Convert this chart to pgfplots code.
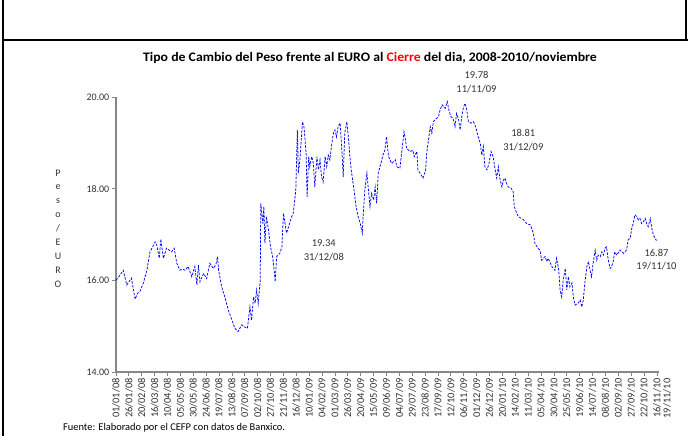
\documentclass[border=0pt]{standalone}
\usepackage{pgfplots}
\pgfplotsset{compat=1.18}
\usepackage{fontspec}
\setmainfont{Carlito}
\definecolor{axgray}{RGB}{134,134,134}
\definecolor{txtgray}{RGB}{50,50,50}
\begin{document}
\begin{tikzpicture}[x=1bp,y=1bp]
\useasboundingbox (0,0) rectangle (688,436);
% frame of the surrounding cell
\draw[line width=1.3bp] (3,436) -- (3,0);
\draw[line width=1.3bp] (3,396) -- (688,396);
\draw[line width=1.3bp] (686,436) -- (686,396);
\node[xscale=1.06, font=\fontsize{13bp}{15bp}\selectfont\bfseries] at (370,378) {Tipo de Cambio del Peso frente al EURO al \textcolor{red}{Cierre} del dia, 2008-2010/noviembre};
\begin{axis}[
  at={(116bp,64bp)}, anchor=south west,
  scale only axis, width=542.5bp, height=275bp,
  xmin=0, xmax=1053, ymin=14, ymax=20,
  axis x line=bottom, axis y line=left,
  axis line style={-, draw=axgray, line width=1.3bp},
  tick align=outside, major tick length=4.5bp,
  tick style={draw=axgray, line width=0.8bp},
  xtick={0,25,...,1050},
  xticklabels={01/01/08,26/01/08,20/02/08,16/03/08,10/04/08,05/05/08,30/05/08,24/06/08,19/07/08,13/08/08,07/09/08,02/10/08,27/10/08,21/11/08,16/12/08,10/01/09,04/02/09,01/03/09,26/03/09,20/04/09,15/05/09,09/06/09,04/07/09,29/07/09,23/08/09,17/09/09,12/10/09,06/11/09,01/12/09,26/12/09,20/01/10,14/02/10,11/03/10,05/04/10,30/04/10,25/05/10,19/06/10,14/07/10,08/08/10,02/09/10,27/09/10,22/10/10,16/11/10},
  xticklabel style={rotate=90, anchor=east, inner sep=1.5bp, font=\fontsize{10.4bp}{12bp}\selectfont, text=txtgray},
  ytick={14,16,18,20},
  yticklabels={14.00,16.00,18.00,20.00},
  yticklabel style={font=\fontsize{10bp}{12bp}\selectfont, text=txtgray, inner sep=2bp},
  clip=false,
]
\addplot[blue, line width=0.75bp, dash pattern=on 2.5bp off 1.4bp] coordinates {
(0,16.00)(7,16.10)(14,16.22)(21,15.90)(30,16.05)(37,15.59)(42,15.72)(47,15.77)(53,15.94)(60,16.22)
(66,16.62)(72,16.75)(76,16.84)(79,16.77)(84,16.48)(87,16.90)(92,16.48)(98,16.70)(103,16.66)(108,16.62)
(113,16.70)(118,16.37)(124,16.22)(129,16.25)(134,16.22)(140,16.30)(147,16.08)(153,16.30)(157,15.90)(160,16.33)
(163,15.97)(170,16.15)(176,16.04)(182,16.37)(189,16.26)(194,16.35)(197,16.52)(199,16.22)(205,15.86)(212,15.61)
(218,15.35)(225,15.13)(231,14.95)(237,14.88)(244,15.03)(250,14.98)(255,14.95)(260,15.42)(263,15.13)(267,15.64)
(270,15.50)(273,15.79)(276,15.50)(280,16.00)(281,17.68)(285,17.24)(287,17.61)(289,16.81)(292,17.39)(296,17.10)
(300,16.73)(304,16.52)(307,16.22)(309,15.97)(312,16.52)(318,16.59)(322,16.73)(325,17.46)(331,17.03)(335,17.17)
(341,17.39)(344,17.46)(349,17.97)(352,19.28)(354,18.34)(357,18.63)(362,19.46)(365,19.34)(369,18.77)(371,17.82)
(374,18.70)(376,18.48)(380,18.70)(383,18.55)(386,18.04)(390,18.70)(393,18.41)(396,18.63)(399,18.26)(402,18.15)
(406,18.70)(409,18.48)(412,18.73)(415,18.63)(419,18.99)(422,19.21)(425,19.28)(428,19.13)(431,19.35)(435,19.43)
(438,18.92)(441,18.26)(444,19.21)(448,19.46)(451,19.13)(454,18.70)(457,18.37)(462,17.97)(466,17.61)(470,17.39)
(474,17.24)(478,17.03)(480,17.46)(483,17.97)(487,18.34)(490,17.97)(493,17.61)(496,17.90)(500,17.75)(503,18.04)
(506,17.68)(509,18.34)(516,18.63)(519,18.77)(522,18.84)(525,19.13)(529,18.70)(535,18.55)(542,18.63)(545,18.48)
(551,18.44)(555,18.84)(559,19.24)(562,19.06)(564,18.88)(571,18.81)(576,18.84)(579,18.70)(584,18.81)(586,18.41)
(590,18.34)(596,18.23)(601,18.41)(603,18.77)(606,19.02)(610,19.35)(613,19.21)(616,19.46)(619,19.50)(626,19.57)
(629,19.72)(633,19.83)(639,19.75)(643,19.90)(646,19.72)(650,19.57)(654,19.54)(658,19.35)(661,19.64)(665,19.50)
(668,19.28)(671,19.57)(674,19.75)(677,19.86)(680,19.78)(684,19.46)(689,19.43)(694,19.46)(698,19.35)(703,19.13)
(707,18.99)(710,18.73)(713,18.92)(716,18.48)(720,18.41)(724,18.55)(728,18.81)(732,18.70)(736,18.41)(739,18.23)
(742,18.48)(745,18.23)(749,18.04)(752,18.19)(755,18.23)(758,18.12)(761,18.04)(767,18.01)(771,17.93)(773,17.61)
(778,17.46)(781,17.39)(787,17.35)(791,17.32)(797,17.24)(804,17.21)(807,17.13)(810,17.03)(813,16.81)(819,16.70)
(823,16.66)(826,16.44)(833,16.52)(836,16.41)(839,16.48)(846,16.30)(852,16.22)(855,16.48)(859,16.26)(862,15.79)
(865,15.64)(868,16.00)(872,16.26)(875,15.79)(878,16.08)(881,15.86)(885,15.94)(888,15.61)(891,15.46)(897,15.50)
(901,15.57)(904,15.42)(907,15.57)(910,15.94)(914,16.30)(917,16.41)(920,16.22)(923,16.08)(926,16.37)(930,16.66)
(933,16.44)(936,16.55)(940,16.52)(943,16.62)(946,16.55)(949,16.70)(952,16.73)(955,16.48)(959,16.26)(962,16.30)
(965,16.41)(968,16.62)(972,16.55)(978,16.66)(985,16.59)(991,16.66)(994,16.88)(998,16.92)(1001,17.13)(1004,17.24)
(1007,17.43)(1011,17.39)(1014,17.32)(1017,17.35)(1020,17.24)(1024,17.28)(1027,17.35)(1030,17.24)(1033,17.17)(1037,17.35)
(1040,17.13)(1043,16.99)(1048,16.88)(1053,16.87)
};
\end{axis}
% annotations
\begin{scope}[every node/.style={font=\fontsize{10.5bp}{13.5bp}\selectfont, text=txtgray, align=center}]
\node at (476.5,354) {19.78\\11/11/09};
\node at (523.3,296) {18.81\\31/12/09};
\node at (323.8,185.5) {19.34\\31/12/08};
\node at (656.5,176.5) {16.87\\19/11/10};
\end{scope}
\node[rotate=90, anchor=east, inner sep=0pt, font=\fontsize{10.4bp}{12bp}\selectfont, text=txtgray] at (667,57.5) {19/11/10};
\node[font=\fontsize{10bp}{13.9bp}\selectfont, text=txtgray, align=center] at (58,207.5) {P\\e\\s\\o\\/\\E\\U\\R\\O};
\node[anchor=west, inner sep=0pt, font=\fontsize{10.4bp}{12bp}\selectfont, text=black] at (63,8) {Fuente: Elaborado por el CEFP con datos de Banxico.};
\end{tikzpicture}
\end{document}
